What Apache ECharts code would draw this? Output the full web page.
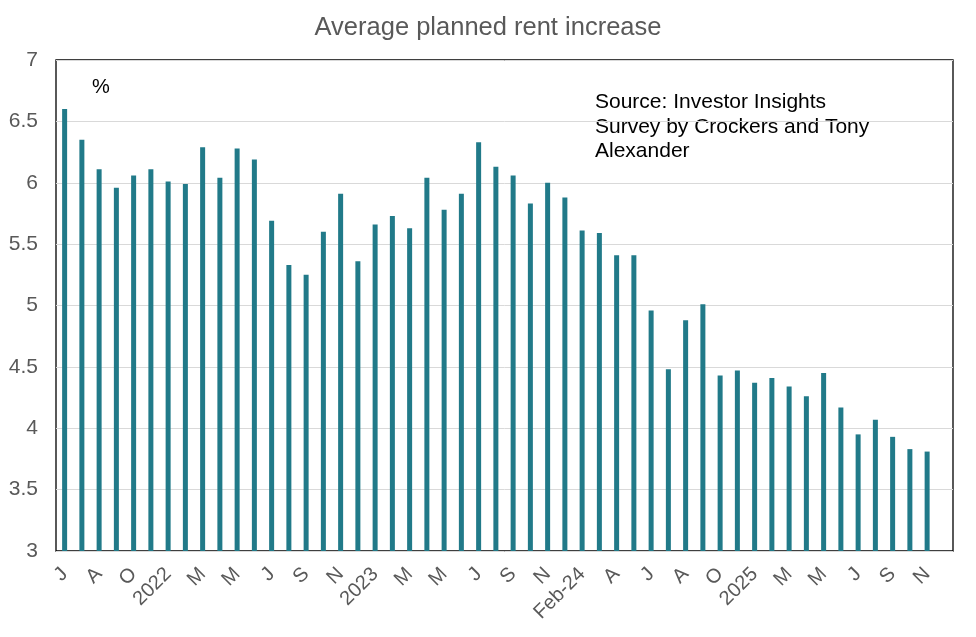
<!DOCTYPE html>
<html><head><meta charset="utf-8">
<script src="https://cdn.jsdelivr.net/npm/echarts@6/dist/echarts.min.js"></script>
<style>html,body{margin:0;padding:0;background:#fff}#c{width:976px;height:637px}</style>
</head><body><div id="c"></div>
<script>
const categories = ['Jun-21','Jul-21','Aug-21','Sep-21','Oct-21','Nov-21','Jan-22','Feb-22','Mar-22','Apr-22','May-22','Jun-22','Jul-22','Aug-22','Sep-22','Oct-22','Nov-22','Dec-22','Jan-23','Feb-23','Mar-23','Apr-23','May-23','Jun-23','Jul-23','Aug-23','Sep-23','Oct-23','Nov-23','Dec-23','Feb-24','Mar-24','Apr-24','May-24','Jun-24','Jul-24','Aug-24','Sep-24','Oct-24','Nov-24','Jan-25','Feb-25','Mar-25','Apr-25','May-25','Jun-25','Jul-25','Aug-25','Sep-25','Oct-25','Nov-25','Dec-25'];
const tickLabels = ['J','','A','','O','','2022','','M','','M','','J','','S','','N','','2023','','M','','M','','J','','S','','N','','Feb-24','','A','','J','','A','','O','','2025','','M','','M','','J','','S','','N',''];
const rentIncrease = [6.60,6.35,6.11,5.96,6.06,6.11,6.01,5.99,6.29,6.04,6.28,6.19,5.69,5.33,5.25,5.60,5.91,5.36,5.66,5.73,5.63,6.04,5.78,5.91,6.33,6.13,6.06,5.83,6.00,5.88,5.61,5.59,5.41,5.41,4.96,4.48,4.88,5.01,4.43,4.47,4.37,4.41,4.34,4.26,4.45,4.17,3.95,4.07,3.93,3.83,3.81,null];
const yTicks = [3,3.5,4,4.5,5,5.5,6,6.5,7];

const chart = echarts.init(document.getElementById('c'));
const F = '"Liberation Sans", Arial, sans-serif';
chart.setOption({
  animation: false,
  title: {text: 'Average planned rent increase', left: 'center', top: 10,
    textStyle: {fontFamily: F, fontSize: 25.5, fontWeight: 'normal', color: '#595959'}},
  grid: {left: 56, right: 23, top: 60, bottom: 86, show: true, borderColor: '#000', borderWidth: 1.3, backgroundColor: 'transparent'},
  xAxis: {type: 'category', data: categories,
    axisLine: {show: false}, axisTick: {show: false},
    axisLabel: {interval: 0, rotate: 45, margin: 20, fontFamily: F, fontSize: 20, color: '#595959',
      formatter: (v, i) => tickLabels[i]}},
  yAxis: {type: 'value', min: yTicks[0], max: yTicks[yTicks.length-1], interval: 0.5,
    axisLine: {show: false}, axisTick: {show: false},
    splitLine: {lineStyle: {color: '#d9d9d9', width: 1}},
    axisLabel: {margin: 18, fontFamily: F, fontSize: 21, color: '#595959'}},
  series: [{type: 'bar', data: rentIncrease, barWidth: 5, itemStyle: {color: '#217A89'}}],
  graphic: [
    {type: 'text', left: 92, top: 77, style: {text: '%', font: '20px ' + F, fill: '#000'}},
    {type: 'text', left: 595, top: 90, style: {text: 'Source: Investor Insights\nSurvey by Crockers and Tony\nAlexander', font: '21px ' + F, fill: '#000', lineHeight: 24.5}}
  ]
});
</script></body></html>
